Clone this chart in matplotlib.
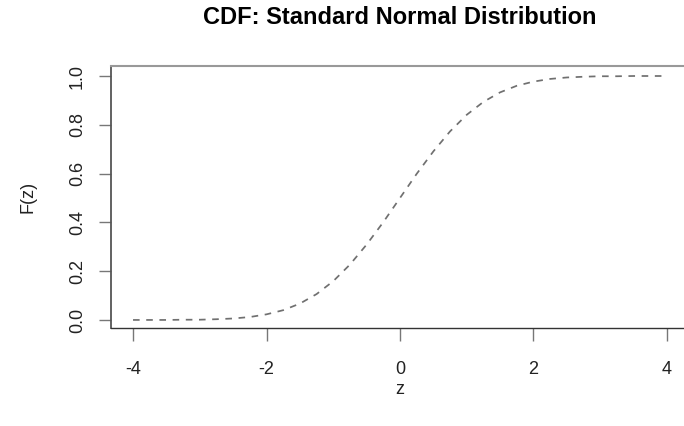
import matplotlib
matplotlib.use("Agg")
import matplotlib.pyplot as plt

# values
z = [-4.0, -3.75, -3.5, -3.25, -3.0, -2.75, -2.5, -2.25, -2.0, -1.75, -1.5,
     -1.25, -1.0, -0.75, -0.5, -0.25, 0.0, 0.25, 0.5, 0.75, 1.0, 1.25, 1.5,
     1.75, 2.0, 2.25, 2.5, 2.75, 3.0, 3.25, 3.5, 3.75, 4.0]
Fz = [0.000, 0.000, 0.000, 0.001, 0.001, 0.003, 0.006, 0.012, 0.023, 0.040,
      0.067, 0.106, 0.159, 0.227, 0.309, 0.401, 0.500, 0.599, 0.691, 0.773,
      0.841, 0.894, 0.933, 0.960, 0.977, 0.988, 0.994, 0.997, 0.999, 0.999,
      1.000, 1.000, 1.000]
xticks = [-4, -2, 0, 2, 4]
yticks = [0.0, 0.2, 0.4, 0.6, 0.8, 1.0]

plt.rcParams['font.family'] = ['Liberation Sans', 'DejaVu Sans']

W, H = 684, 426
fig = plt.figure(figsize=(W / 100, H / 100), dpi=100)
# plot box in pixels: left 111, top 66, bottom 328, right beyond the image
l, t, r, b = 111, 66, 689, 328
ax = fig.add_axes([l / W, 1 - b / H, (r - l) / W, (b - t) / H])

ax.plot(z, Fz, color='#707070', lw=1.25, linestyle=(0, (3.8, 3.8)))

ax.set_xlim(-4.33, 4.33)
ax.set_ylim(-0.033, 1.041)
ax.set_xticks(xticks)
ax.set_xticklabels([str(v) for v in xticks])
ax.set_yticks(yticks)
ax.set_yticklabels([f"{v:.1f}" for v in yticks], rotation=90, va='center')

ax.tick_params(axis='both', length=9, width=1, color='#777777',
               labelsize=13, labelcolor='#222222')
ax.tick_params(axis='x', pad=15)
ax.tick_params(axis='y', pad=9)

ax.spines['bottom'].set_color('#333333')
ax.spines['bottom'].set_linewidth(1.0)
ax.spines['left'].set_color('#555555')
ax.spines['left'].set_linewidth(1.3)
ax.spines['top'].set_color('#999999')
ax.spines['top'].set_linewidth(1.5)
ax.spines['right'].set_color('#555555')

fig.text(400 / W, 1 - 18 / H, "CDF: Standard Normal Distribution",
         ha='center', va='center', fontsize=17, fontweight='bold')
fig.text(400 / W, 1 - 390 / H, "z", ha='center', va='center',
         fontsize=13, color='#222222')
fig.text(28 / W, 1 - 197 / H, "F(z)", ha='center', va='center',
         rotation=90, fontsize=13, color='#222222')

fig.savefig("out.png", dpi=100)
